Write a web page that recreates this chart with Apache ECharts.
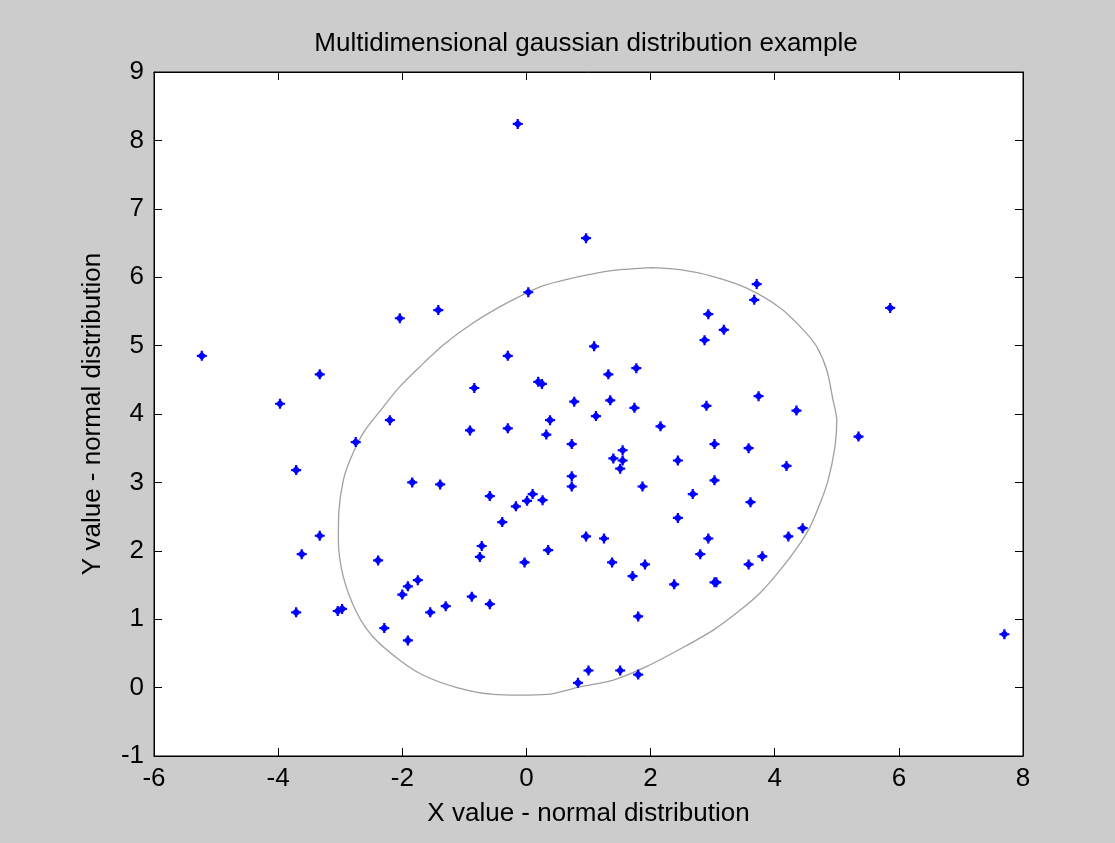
<!DOCTYPE html>
<html>
<head>
<meta charset="utf-8">
<script src="https://cdn.jsdelivr.net/npm/echarts@6/dist/echarts.min.js"></script>
<style>
html,body{margin:0;padding:0;background:#cccccc;}
#chart{width:1115px;height:843px;}
</style>
</head>
<body>
<div id="chart"></div>
<script>
// ---- data ----
const titleText = 'Multidimensional gaussian distribution example';
const xLabel = 'X value - normal distribution';
const yLabel = 'Y value - normal distribution';
const xTicks = [-6, -4, -2, 0, 2, 4, 6, 8];
const yTicks = [-1, 0, 1, 2, 3, 4, 5, 6, 7, 8, 9];

const xVals = [-5.23,-3.97,-3.33,-2.04,-1.42,-0.14,0.96,0.03,-0.30,-0.84,
  0.19,0.25,0.77,3.71,3.67,5.86,2.93,3.18,2.87,1.09,
  1.77,1.32,1.35,1.74,2.90,3.74,4.35,1.12,2.16,5.35,
  3.03,3.58,1.55,1.40,1.55,1.51,2.44,4.19,3.03,1.87,
  2.68,3.61,2.44,4.45,4.22,0.96,1.25,2.93,2.80,3.80,
  1.38,1.91,3.58,1.71,2.38,3.03,3.06,1.80,7.70,1.00,
  1.51,1.80,0.83,-2.20,-2.75,-0.91,-0.30,0.32,0.38,0.73,
  0.73,0.73,-3.71,-1.84,-1.39,-0.59,-0.17,0.01,0.10,0.26,
  -0.39,-0.72,-0.75,-0.03,0.35,-3.33,-3.62,-2.39,-2.00,-1.91,
  -1.75,-0.88,-0.59,-1.55,-1.30,-3.71,-3.04,-2.97,-2.29,-1.91];
const yVals = [4.85,4.15,4.58,5.40,5.52,8.24,6.57,5.78,4.85,4.38,
  4.47,4.44,4.18,5.90,5.67,5.55,5.46,5.23,5.08,4.99,
  4.67,4.58,4.20,4.09,4.12,4.26,4.05,3.97,3.82,3.67,
  3.56,3.50,3.47,3.35,3.32,3.20,3.32,3.24,3.03,2.94,
  2.83,2.71,2.48,2.33,2.21,2.21,2.18,2.18,1.95,1.92,
  1.83,1.80,1.80,1.63,1.51,1.54,1.54,1.04,0.78,0.25,
  0.25,0.19,0.07,3.91,3.59,3.76,3.79,3.70,3.91,3.56,
  3.09,2.94,3.18,3.00,2.97,2.80,2.65,2.73,2.83,2.74,
  2.42,2.07,1.91,1.83,2.01,2.22,1.95,1.86,1.36,1.48,
  1.57,1.33,1.22,1.10,1.19,1.10,1.12,1.15,0.87,0.69];

// contour curve
const ellX = [2.04,2.47,3.01,3.55,4.09,4.46,4.68,4.84,4.94,5.00,4.97,4.86,4.73,4.57,4.41,4.09,3.76,3.44,3.01,2.47,1.94,1.40,0.86,0.33,-0.10,-0.53,-1.12,-1.66,-2.04,-2.47,-2.73,-2.95,-3.03,-3.02,-2.95,-2.84,-2.63,-2.37,-2.04,-1.66,-1.34,-0.86,-0.32,0.22,0.62,1.02,1.40,2.04];
const ellY = [6.14,6.11,6.01,5.84,5.55,5.23,4.98,4.64,4.20,3.91,3.52,3.03,2.69,2.35,2.11,1.72,1.38,1.13,0.84,0.56,0.31,0.11,0.01,-0.10,-0.11,-0.10,0.00,0.18,0.40,0.74,1.09,1.62,2.16,2.60,3.03,3.33,3.72,4.03,4.40,4.74,5.01,5.33,5.62,5.86,5.96,6.04,6.10,6.14];

// ---- chart ----
const FONT = '"Liberation Sans", Arial, sans-serif';
const FS = 26;
const pts = xVals.map((x, i) => [x, yVals[i]]);
const ell = ellX.map((x, i) => [x, ellY[i]]);

const xMin = xTicks[0], xMax = xTicks[xTicks.length - 1], xInt = xTicks[1] - xTicks[0];
const yMin = yTicks[0], yMax = yTicks[yTicks.length - 1], yInt = yTicks[1] - yTicks[0];

const lineStyle = {color: '#000', width: 1};
function axisBase(extra) {
  return Object.assign({
    type: 'value',
    axisLine: {show: true, onZero: false, lineStyle: lineStyle},
    axisTick: {show: true, inside: true, length: 8, lineStyle: lineStyle},
    splitLine: {show: false},
    axisLabel: {color: '#000', fontSize: FS, fontFamily: FONT, margin: 10}
  }, extra);
}

const marker = 'path://M-1,-4.5 L1,-4.5 L1,-3 L3,-1 L4.5,-1 L4.5,1 L3,1 L1,3 L1,4.5 L-1,4.5 L-1,3 L-3,1 L-4.5,1 L-4.5,-1 L-3,-1 L-1,-3 Z';

const chart = echarts.init(document.getElementById('chart'));
chart.setOption({
  animation: false,
  backgroundColor: '#cccccc',
  title: {
    text: titleText, left: 586, top: 31, textAlign: 'center', padding: 0,
    textStyle: {color: '#000', fontSize: FS, fontWeight: 'normal', fontFamily: FONT}
  },
  grid: {left: 154, right: 92, top: 72, bottom: 87, show: true, backgroundColor: '#ffffff', borderColor: '#000', borderWidth: 1},
  xAxis: [
    axisBase({min: xMin, max: xMax, interval: xInt, position: 'bottom',
      name: xLabel, nameLocation: 'middle', nameGap: 45,
      nameTextStyle: {color: '#000', fontSize: FS, fontFamily: FONT}}),
    axisBase({min: xMin, max: xMax, interval: xInt, position: 'top', axisLabel: {show: false}})
  ],
  yAxis: [
    axisBase({min: yMin, max: yMax, interval: yInt, position: 'left',
      name: yLabel, nameLocation: 'middle', nameGap: 48,
      nameTextStyle: {color: '#000', fontSize: FS, fontFamily: FONT}}),
    axisBase({min: yMin, max: yMax, interval: yInt, position: 'right', axisLabel: {show: false}})
  ],
  series: [
    {type: 'line', data: ell, smooth: 0.3, showSymbol: false, symbol: 'none', z: 2,
      lineStyle: {color: '#a0a0a0', width: 1.3}, xAxisIndex: 0, yAxisIndex: 0},
    {type: 'scatter', data: pts, symbol: marker, symbolSize: 10, z: 3,
      itemStyle: {color: '#0000ff', opacity: 1}, xAxisIndex: 0, yAxisIndex: 0}
  ]
});
</script>
</body>
</html>
